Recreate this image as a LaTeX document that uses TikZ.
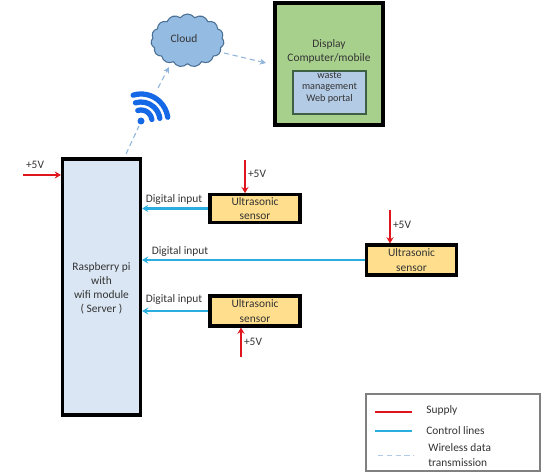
\documentclass[tikz,border=0pt]{standalone}
\usepackage{fontspec}
\setmainfont{Carlito}
\usetikzlibrary{arrows.meta,shapes.symbols}
\definecolor{supplyred}{HTML}{E0141C}
\definecolor{controlblue}{HTML}{2AAEDF}
\definecolor{wirelessblue}{HTML}{8FB4DC}
\definecolor{wifiblue}{HTML}{1568E6}
\definecolor{textgray}{HTML}{333333}
\definecolor{serverfill}{HTML}{DAE6F3}
\definecolor{displayfill}{HTML}{A8D08D}
\definecolor{portalfill}{HTML}{B4CBE6}
\definecolor{portaldraw}{HTML}{3F5F45}
\definecolor{cloudfill}{HTML}{94BCE2}
\definecolor{clouddraw}{HTML}{4A6F94}
\definecolor{sensorfill}{HTML}{FFDF8E}
\tikzset{
  txt/.style={text=textgray, font=\fontsize{6.5}{8}\selectfont, align=center, inner sep=0pt},
  sensorbox/.style={draw=black, line width=1.8pt, fill=sensorfill, minimum width=1.8cm, minimum height=0.55cm, inner sep=0pt, align=center, text=textgray, font=\fontsize{6.5}{8.2}\selectfont},
  supply/.style={-{Stealth[length=3.5pt,width=4pt]}, supplyred, line width=1.4pt},
  control/.style={-{Stealth[length=3.5pt,width=4pt]}, controlblue, line width=1.3pt},
  wireless/.style={-{Stealth[length=3.5pt,width=3.5pt]}, wirelessblue, densely dashed, line width=0.6pt},
}
\begin{document}
\begin{tikzpicture}[x=0.02cm,y=-0.02cm]
  \useasboundingbox (0,0) rectangle (546,475);
  % Server
  \node[draw=black, line width=1.8pt, fill=serverfill, minimum width=1.56cm, minimum height=5.12cm, txt] (server) at (101.5,287) {};
  \node[txt] (serverlabel) at (101.5,288) {Raspberry pi\\with\\wifi module\\( Server )};
  % Cloud and display
  \node[cloud, cloud puffs=15, cloud puff arc=110, aspect=1.35, draw=clouddraw, fill=cloudfill, line width=0.6pt, minimum width=1.46cm, minimum height=1.06cm, inner sep=0pt] (cloud) at (187.5,40.5) {};
  \node[txt] (cloudlabel) at (184,39) {Cloud};
  \node[draw=black, line width=1.8pt, fill=displayfill, minimum width=2.16cm, minimum height=2.44cm] (display) at (329,64) {};
  \node[txt] (displaylabel) at (329,51) {Display\\Computer/mobile};
  \node[draw=portaldraw, line width=1.2pt, fill=portalfill, minimum width=1.46cm, minimum height=0.86cm] (portal) at (329.5,92.5) {};
  \node[txt, font=\fontsize{5.8}{6.6}\selectfont] (portallabel) at (329.5,87.5) {waste\\management\\Web portal};
  % Wifi symbol
  \fill[wifiblue] (141,121) circle (3.5);
  \foreach \r in {11,19,27}
    \draw[wifiblue, line width=3pt, line cap=round] (141,121) ++(-107:\r) arc[start angle=-107, end angle=-8, radius=\r];
  % Wireless links
  \coordinate (wifibottom) at (139,126);
  \coordinate (wifitop) at (158,88);
  \coordinate (servertop) at (126,154);
  \coordinate (displayleft) at (266,63);
  \draw[wireless, -] (servertop) -- (wifibottom);
  \draw[wireless] (wifitop) -- (169,67);
  \draw[wireless] (224,53) -- (displayleft);
  % Sensors
  \node[sensorbox] (sensora) at (255,208.5) {Ultrasonic\\sensor};
  \node[sensorbox, minimum height=0.6cm] (sensorb) at (411.5,260) {Ultrasonic\\sensor};
  \node[sensorbox, minimum height=0.6cm] (sensorc) at (255,311) {Ultrasonic\\sensor};
  % Control lines
  \draw[control] (sensora.west) -- (sensora.west -| server.east);
  \draw[control] (sensorb.west) -- (sensorb.west -| server.east);
  \draw[control] (sensorc.west) -- (sensorc.west -| server.east);
  \node[txt] (inputa) at (174,200) {Digital input};
  \node[txt] (inputb) at (180,252) {Digital input};
  \node[txt] (inputc) at (174,300) {Digital input};
  % Supply lines
  \coordinate (supplyserver) at (23,175);
  \coordinate (supplya) at (245,160);
  \coordinate (supplyb) at (390,210);
  \coordinate (supplyc) at (241,357);
  \draw[supply] (supplyserver) -- (supplyserver -| server.west);
  \draw[supply] (supplya) -- (supplya |- sensora.north);
  \draw[supply] (supplyb) -- (supplyb |- sensorb.north);
  \draw[supply] (supplyc) -- (supplyc |- sensorc.south);
  \node[txt] (voltserver) at (35,165) {+5V};
  \node[txt] (volta) at (257,174) {+5V};
  \node[txt] (voltb) at (402,225) {+5V};
  \node[txt] (voltc) at (253,342) {+5V};
  % Legend
  \node[draw=gray, line width=0.7pt, minimum width=3.48cm, minimum height=1.54cm] (legend) at (453,432.5) {};
  \draw[supplyred, line width=1.5pt] (375,412) coordinate (supplystart) -- (412,412) coordinate (supplyend);
  \draw[controlblue, line width=1.5pt] (375,431) coordinate (controlstart) -- (412,431) coordinate (controlend);
  \draw[wirelessblue!70, densely dashed, line width=0.5pt] (378,455) coordinate (wirelessstart) -- (414,455) coordinate (wirelessend);
  \node[txt, anchor=west] (supplylabel) at (426,410) {Supply};
  \node[txt, anchor=west] (controllabel) at (426,431) {Control lines};
  \node[txt, anchor=west, align=left, font=\fontsize{6.5}{8.5}\selectfont] (wirelesslabel) at (428,455) {Wireless data\\transmission};
\end{tikzpicture}
\end{document}
